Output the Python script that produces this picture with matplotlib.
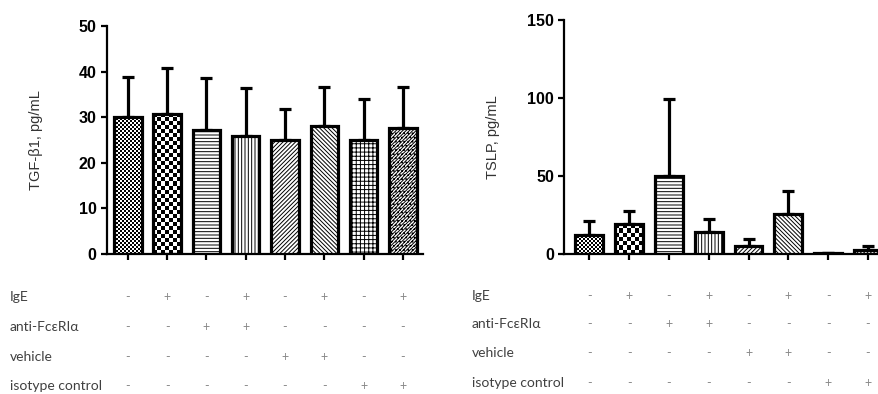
import numpy as np
import matplotlib
matplotlib.use("Agg")
import matplotlib.pyplot as plt
import matplotlib.transforms as mtransforms

# treatment table
row_names = ["IgE", "anti-FcεRIα", "vehicle", "isotype control"]
ige = ["-", "+", "-", "+", "-", "+", "-", "+"]
anti_fc = ["-", "-", "+", "+", "-", "-", "-", "-"]
vehicle = ["-", "-", "-", "-", "+", "+", "-", "-"]
isotype = ["-", "-", "-", "-", "-", "-", "+", "+"]

# TGF-beta1 (pg/mL), mean and upper SD
tgf_mean = [30.1, 30.8, 27.2, 25.9, 25.1, 28.1, 25.1, 27.6]
tgf_err = [8.8, 9.9, 11.5, 10.6, 6.6, 8.5, 9.0, 9.0]

# TSLP (pg/mL)
tslp_mean = [12.2, 19.0, 50.2, 13.9, 5.3, 25.4, 0.6, 2.5]
tslp_err = [9.0, 8.8, 48.9, 8.5, 4.3, 15.0, 0.3, 2.8]

# fill style per group: ("checker", cell px) or a hatch string
fills = [("checker", 2), ("checker", 4), "-----", "|||||",
         "////////", "\\" * 8, "++++", "//////////...."]

plt.rcParams["hatch.linewidth"] = 0.7
W, H = 879, 394
fig = plt.figure(figsize=(W / 100, H / 100), dpi=100)


def draw_panel(ax, means, errs, xlim, ylim, yticks, ylabel):
    x = np.arange(len(means))
    ax.set_xlim(*xlim)
    ax.set_ylim(*ylim)
    bars = ax.bar(x, means, width=0.7, facecolor="white", edgecolor="black",
                  linewidth=2.3, zorder=3)
    ax.errorbar(x, means, yerr=[np.zeros(len(errs)), errs], fmt="none",
                ecolor="black", elinewidth=2.3, capsize=4.5, capthick=2.3,
                zorder=2)
    fig.canvas.draw()
    for b, f in zip(bars, fills):
        if isinstance(f, tuple):
            cell = f[1]
            b.set_facecolor("none")
            x0, y0 = ax.transData.transform((b.get_x(), 0))
            x1, y1 = ax.transData.transform((b.get_x() + b.get_width(), b.get_height()))
            nc = max(1, int(round((x1 - x0) / cell)))
            nr = max(1, int(round((y1 - y0) / cell)))
            board = (np.add.outer(np.arange(nr), np.arange(nc)) % 2).astype(float)
            im = ax.imshow(board, cmap="gray", vmin=0, vmax=1,
                           extent=[b.get_x(), b.get_x() + b.get_width(), 0, b.get_height()],
                           aspect="auto", interpolation="nearest", zorder=2.5)
            im.set_clip_path(b)
        else:
            b.set_hatch(f)
    ax.set_xlim(*xlim)
    ax.set_ylim(*ylim)
    ax.set_yticks(yticks)
    ax.set_xticks(x)
    ax.set_xticklabels([])
    for s in ["top", "right"]:
        ax.spines[s].set_visible(False)
    for s in ["left", "bottom"]:
        ax.spines[s].set_linewidth(1.6)
    ax.tick_params(axis="both", direction="out", length=4, width=1.6)
    for lab in ax.get_yticklabels():
        lab.set_fontfamily("Liberation Sans")
        lab.set_fontweight("bold")
        lab.set_fontsize(11.5)
    ax.set_ylabel(ylabel, fontfamily="Liberation Sans", fontsize=10.5, color="#333333")
    ax.yaxis.set_label_coords(-0.203, 0.5)


ax1 = fig.add_axes([107 / W, 140 / H, 316 / W, 228 / H])
draw_panel(ax1, tgf_mean, tgf_err, (-0.53, 7.51), (0, 50),
           [0, 10, 20, 30, 40, 50], "TGF-β1, pg/mL")

ax2 = fig.add_axes([564.3 / W, 140 / H, (W - 564.3) / W, 234 / H])
draw_panel(ax2, tslp_mean, tslp_err, (-0.63, 7.28), (0, 150),
           [0, 50, 100, 150], "TSLP, pg/mL")

# treatment tables under each panel
table = [ige, anti_fc, vehicle, isotype]
for ax, label_x, rows_y in [(ax1, 10, [297, 327, 357, 386]),
                            (ax2, 472, [296, 324, 353, 383])]:
    tr = mtransforms.blended_transform_factory(ax.transData, fig.transFigure)
    for name, signs, yp in zip(row_names, table, rows_y):
        fig.text(label_x / W, 1 - yp / H, name, fontfamily="Lato", fontsize=10,
                 color="#404040", va="center", ha="left")
        for i, s in enumerate(signs):
            fig.text(i, 1 - yp / H, s, transform=tr, fontfamily="Lato",
                     fontsize=9, color="#8a8a8a", va="center", ha="center")

fig.savefig("out.png", dpi=100)
